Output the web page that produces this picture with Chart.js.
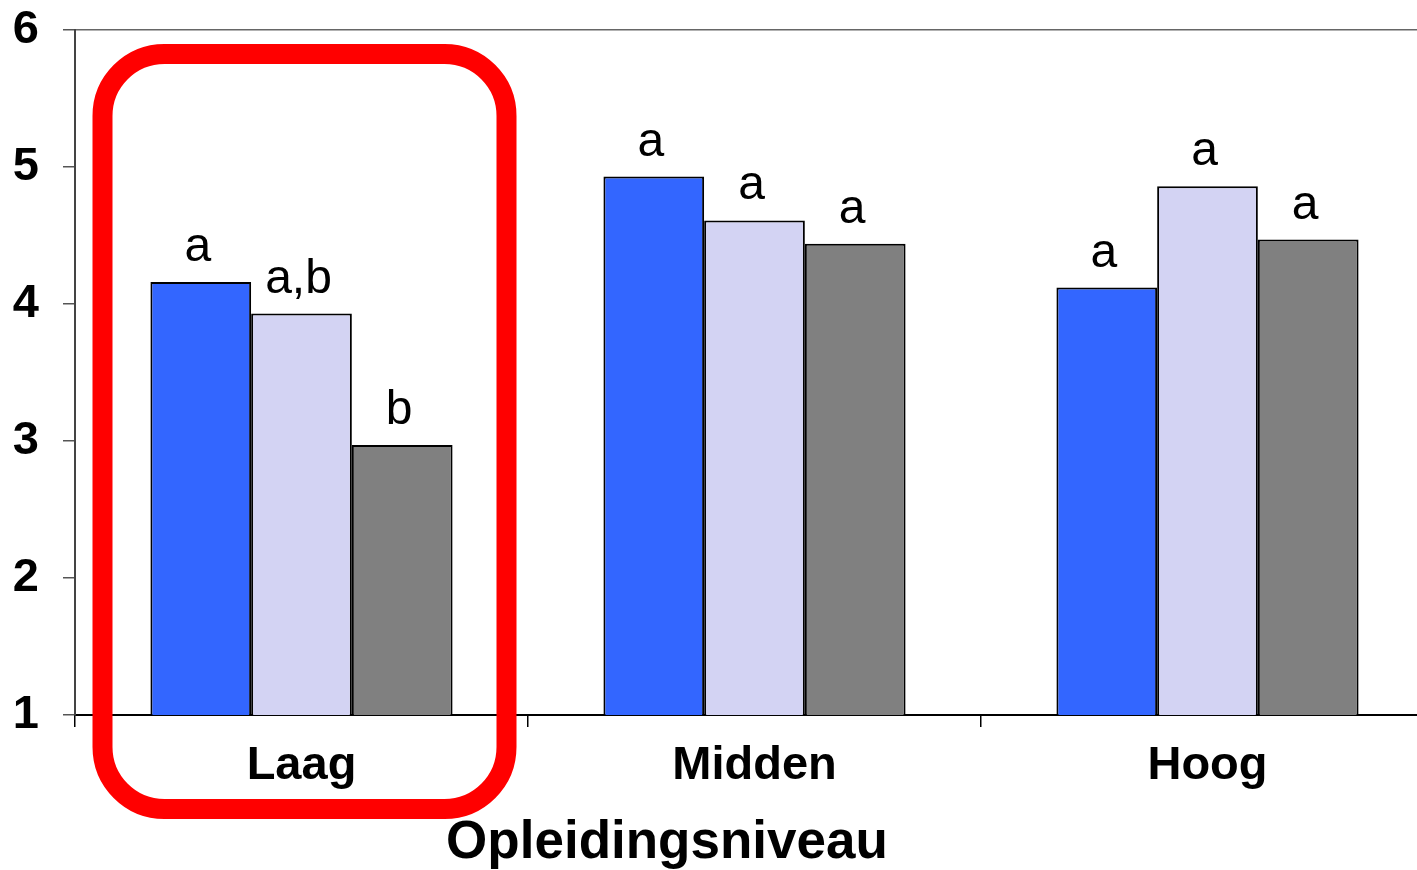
<!DOCTYPE html>
<html>
<head>
<meta charset="utf-8">
<script src="https://cdn.jsdelivr.net/npm/chart.js@4/dist/chart.umd.min.js"></script>
<style>
  html, body { margin: 0; padding: 0; background: #fff; overflow: hidden; }
  #wrap { width: 1440px; height: 870px; }
</style>
</head>
<body>
<div id="wrap"><canvas id="chart"></canvas></div>
<script>
// Data
const categories = ['Laag', 'Midden', 'Hoog'];
const groupA = [4.16, 4.93, 4.12];
const groupB = [3.93, 4.61, 4.86];
const groupC = [2.97, 4.44, 4.47];
const lettersA = ['a', 'a', 'a'];
const lettersB = ['a,b', 'a', 'a'];
const lettersC = ['b', 'a', 'a'];
const yTicks = [1, 2, 3, 4, 5, 6];
const axisTitle = 'Opleidingsniveau';

const FONT = '"Liberation Sans", Arial, sans-serif';

// letters above each bar
const barLetters = {
  id: 'barLetters',
  afterDatasetsDraw(chart) {
    const ctx = chart.ctx;
    const letters = [lettersA, lettersB, lettersC];
    ctx.save();
    ctx.font = '48px ' + FONT;
    ctx.fillStyle = '#000';
    ctx.textAlign = 'center';
    ctx.textBaseline = 'alphabetic';
    chart.data.datasets.forEach((ds, i) => {
      chart.getDatasetMeta(i).data.forEach((bar, j) => {
        ctx.fillText(letters[i][j], bar.x - 3, bar.y - 21);
      });
    });
    ctx.restore();
  },
};

// red rounded box round the first group + axis title
const extras = {
  id: 'extras',
  afterDraw(chart) {
    const ctx = chart.ctx;
    const x = chart.scales.x;
    const y = chart.scales.y;
    const c = x.getPixelForValue(0);
    const left = c - 199;
    const right = c + 205;
    const top = y.getPixelForValue(6) + 24;
    const bottom = y.getPixelForValue(1) + 94;
    ctx.save();
    ctx.strokeStyle = '#ff0000';
    ctx.lineWidth = 20;
    ctx.beginPath();
    ctx.roundRect(left, top, right - left, bottom - top, 62);
    ctx.stroke();

    ctx.font = 'bold 53px ' + FONT;
    ctx.fillStyle = '#000';
    ctx.textAlign = 'center';
    ctx.textBaseline = 'alphabetic';
    ctx.fillText(axisTitle, 667, 858);
    ctx.restore();
  },
};

new Chart(document.getElementById('chart'), {
  type: 'bar',
  data: {
    labels: categories,
    datasets: [
      { label: 'A', data: groupA, backgroundColor: '#3366ff' },
      { label: 'B', data: groupB, backgroundColor: '#d3d3f3' },
      { label: 'C', data: groupC, backgroundColor: '#808080' },
    ].map((d) => ({ ...d, borderColor: '#000', borderWidth: 2, borderSkipped: 'bottom', categoryPercentage: 0.667, barPercentage: 1 })),
  },
  options: {
    responsive: true,
    maintainAspectRatio: false,
    animation: false,
    layout: { padding: { left: 0, right: 6, top: 30, bottom: 0 } },
    plugins: { legend: { display: false }, tooltip: { enabled: false } },
    scales: {
      x: {
        offset: true,
        grid: { offset: true, drawOnChartArea: false, color: '#000', tickLength: 12, lineWidth: 1.5 },
        border: { color: '#000', width: 2 },
        ticks: { color: '#000', font: { family: FONT, size: 47, weight: 'bold' }, padding: 11 },
        afterFit: (s) => { s.height = 155; s.paddingLeft = 0; s.paddingRight = 0; },
      },
      y: {
        min: 1,
        max: 6,
        afterBuildTicks: (s) => { s.ticks = yTicks.map((v) => ({ value: v })); },
        grid: {
          color: (c) => (c.tick && c.tick.value === 6 ? '#666' : 'rgba(0,0,0,0)'),
          tickColor: '#555',
          tickLength: 12,
          lineWidth: 1.5,
        },
        border: { color: '#444', width: 2 },
        ticks: { color: '#000', font: { family: FONT, size: 47, weight: 'bold' }, padding: 24 },
        afterFit: (s) => { s.width = 75; s.paddingTop = 0; s.paddingBottom = 0; },
      },
    },
  },
  plugins: [barLetters, extras],
});
</script>
</body>
</html>
